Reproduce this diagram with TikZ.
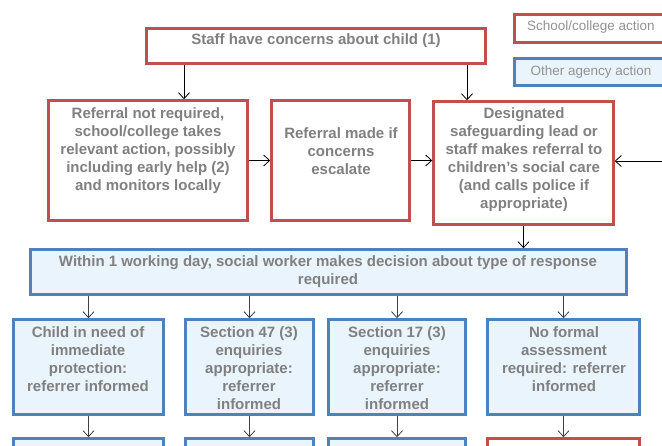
\documentclass[tikz,border=0pt]{standalone}
\usepackage{fontspec}
\setmainfont{Liberation Sans}
\usetikzlibrary{arrows.meta}
\definecolor{schoolred}{RGB}{192,80,77}
\definecolor{agencyblue}{RGB}{79,129,189}
\definecolor{agencyfill}{RGB}{234,244,253}
\definecolor{textgrey}{RGB}{128,128,128}
\begin{document}
\begin{tikzpicture}
[x=1pt, y=-1pt,
  schoolbox/.style={shape=rectangle,draw=schoolred,line width=2.5pt,fill=white,inner sep=0pt},%
  agencybox/.style={shape=rectangle,draw=agencyblue,line width=2.5pt,fill=agencyfill,inner sep=0pt},%
  textdecorate/.style={text=textgrey,font=\bfseries\fontsize{15}{18}\selectfont,align=center,inner sep=0pt},%
  keydecorate/.style={text=textgrey!85,font=\fontsize{13.5}{16}\selectfont,inner sep=0pt},%
  linedecorate/.style={-{Straight Barb[length=6pt,width=11pt]},line width=0.8pt}]
\clip (0,0) rectangle (662,446);
%% boxes
\foreach \nodename/\boxstyle/\x/\y/\w/\h in {staff/schoolbox/316/46/339/35,
  noref/schoolbox/148/160.5/199/120, escal/schoolbox/340.5/160.5/138/120,
  dsl/schoolbox/523.5/163/180/123, decide/agencybox/328.5/272/596/45,
  immed/agencybox/88.5/367/150/95, sfortyseven/agencybox/249.5/367/128/95,
  sseventeen/agencybox/397/367/137/95, noformal/agencybox/563.5/367/152/95,
  immedout/agencybox/88.5/468.5/150/60, sfortysevenout/agencybox/249.5/468.5/128/60,
  sseventeenout/agencybox/397/468.5/137/60, noformalout/schoolbox/563.5/468.5/152/60,
  schoolkey/schoolbox/607/28.5/185/28, agencykey/agencybox/607/72/185/27}
{
  \node (\nodename) at (\x,\y) [\boxstyle, minimum width=\w, minimum height=\h] {};
}
%% texts
\foreach \nodename/\x/\y/\words in {stafftext/316/41/{Staff have concerns about child (1)},
  noreftext/148/150.5/{Referral not required,\\school/college takes\\relevant action, possibly\\including early help (2)\\and monitors locally},
  escaltext/341/151/{Referral made if\\concerns\\escalate},
  dsltext/524/160/{Designated\\safeguarding lead or\\staff makes referral to\\children’s social care\\(and calls police if\\appropriate)},
  decidetext/328/271.5/{Within 1 working day, social worker makes decision about type of response\\required},
  immedtext/88/359/{Child in need of\\immediate\\protection:\\referrer informed},
  sfortyseventext/249/368/{Section 47 (3)\\enquiries\\appropriate:\\referrer\\informed},
  sseventeentext/397/368/{Section 17 (3)\\enquiries\\appropriate:\\referrer\\informed},
  noformaltext/564/359/{No formal\\assessment\\required: referrer\\informed}}
{
  \node (\nodename) at (\x,\y) [textdecorate] {\words};
}
\node (schooltext) at (527,27) [keydecorate,anchor=west] {School/college action};
\node (agencytext) at (591,72) [keydecorate] {Other agency action};
%% arrows
\coordinate (offright) at (680,161);
\draw [linedecorate] ([xshift=-132pt]staff.south) -- ([xshift=36pt]noref.north);
\draw [linedecorate] ([xshift=151pt]staff.south) -- ([xshift=-56.5pt]dsl.north);
\draw [linedecorate] (noref.east) -- (escal.west);
\draw [linedecorate] (escal.east) -- (escal.east -| dsl.west);
\draw [linedecorate] (offright) -- (offright -| dsl.east);
\draw [linedecorate] (dsl.south) -- (dsl.south |- decide.north);
\foreach \endnode in {immed, sfortyseven, sseventeen, noformal}
{
  \draw [linedecorate,draw=black!75] (decide.south -| \endnode.north) -- (\endnode.north);
}
\foreach \startnode/\endnode in {immed/immedout, sfortyseven/sfortysevenout,
  sseventeen/sseventeenout, noformal/noformalout}
{
  \draw [linedecorate,draw=black!75] (\startnode.south) -- (\endnode.north);
}
\end{tikzpicture}
\end{document}
